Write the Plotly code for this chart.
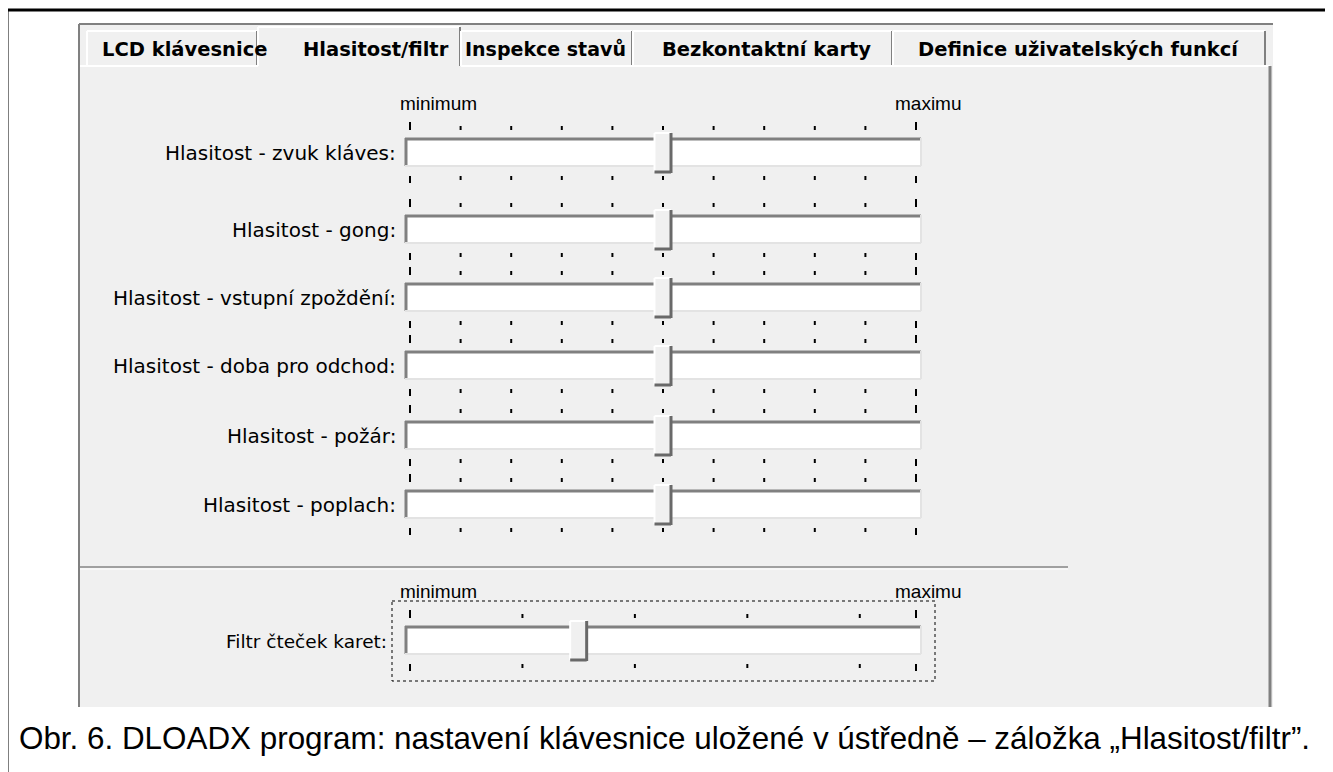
import plotly.graph_objects as go

# ---------------- data ----------------
tab_labels = ["LCD klávesnice", "Hlasitost/filtr", "Inspekce stavů",
              "Bezkontaktní karty", "Definice uživatelských funkcí"]
active_tab = "Hlasitost/filtr"

slider_labels = ["Hlasitost - zvuk kláves:", "Hlasitost - gong:",
                 "Hlasitost - vstupní zpoždění:", "Hlasitost - doba pro odchod:",
                 "Hlasitost - požár:", "Hlasitost - poplach:"]
slider_values = [5, 5, 5, 5, 5, 5]
slider_max = 10
slider_tick_step = 1

filter_label = "Filtr čteček karet:"
filter_value = 3
filter_max = 9
filter_tick_step = 2

range_labels = ["minimum", "maximu"]
caption = "Obr. 6. DLOADX program: nastavení klávesnice uložené v ústředně – záložka „Hlasitost/filtr”."

# ---------------- layout constants ----------------
W, H = 1333, 772
BODY_MARGIN = 8  # default page margin of the html body
PANEL_BG = "#F0F0F0"
DARK = "#808080"
DARKER = "#696969"
LIGHT = "#FFFFFF"
UI_FONT = "DejaVu Sans"

row_centers = [152, 229, 297, 365, 435, 504]
filter_center = 640
TRACK_X0, TRACK_X1 = 405, 921
TICK_X0, TICK_X1 = 410, 916

shapes = []
annotations = []


def line(x0, y0, x1, y1, color, width=1, dash=None):
    d = dict(type="line", x0=x0, y0=y0, x1=x1, y1=y1, xref="x", yref="y",
             layer="below", line=dict(color=color, width=width))
    if dash:
        d["line"]["dash"] = dash
    shapes.append(d)


def rect(x0, y0, x1, y1, fill, color=None, width=0, dash=None):
    d = dict(type="rect", x0=x0, y0=y0, x1=x1, y1=y1, xref="x", yref="y",
             layer="below", fillcolor=fill, line=dict(color=color or fill, width=width))
    if dash:
        d["line"]["dash"] = dash
    shapes.append(d)


def text(x, y, s, size=17, bold=False, xanchor="left", family=UI_FONT, color="black"):
    annotations.append(dict(x=x, y=y, xref="x", yref="y", text=f"<b>{s}</b>" if bold else s,
                            showarrow=False, xanchor=xanchor, yanchor="middle",
                            font=dict(family=family, size=size, color=color)))


# outer frame
line(7, 10, 1332, 10, "black", 3)
line(7, 10, 7, 772, "black", 3)
line(1332, 10, 1332, 772, "black", 3)

# screenshot panel
rect(79, 24, 1273, 707, PANEL_BG)
line(79, 24, 1273, 24, DARK, 2)
line(79, 24, 79, 707, DARK, 2)

# tab row
tab_edges = [87, 258, 461, 633, 893, 1266]
tab_text_cx = [184.5, 376, 545, 766, 1078]
tab_text_size = [19.5, 19.5, 19, 19.5, 19.5]
for i, lab in enumerate(tab_labels):
    x0, x1 = tab_edges[i], tab_edges[i + 1]
    is_active = lab == active_tab
    top = 27 if is_active else 31
    line(x0, top, x1 - 1, top, LIGHT, 2)
    line(x0, top, x0, 66, LIGHT, 2)
    line(x1 - 1, top, x1 - 1, 66, DARK, 2)
    text(tab_text_cx[i], 49, lab, size=tab_text_size[i], bold=True, xanchor="center",
         family="DejaVu Sans")

# panel body borders
act = tab_labels.index(active_tab)
line(80, 66, tab_edges[act], 66, LIGHT, 2)
line(tab_edges[act + 1], 66, 1270, 66, LIGHT, 2)
line(1270, 66, 1270, 707, DARK, 3)

# ticks trace coordinates
tick_x, tick_y = [], []


def add_slider(cy, label, value, vmax, step, label_x, label_size=20):
    # track
    rect(TRACK_X0, cy - 14, TRACK_X1, cy + 14, LIGHT)
    line(TRACK_X0, cy - 13, TRACK_X1, cy - 13, DARK, 3)
    line(TRACK_X0 + 1, cy - 14, TRACK_X0 + 1, cy + 14, DARK, 3)
    line(TRACK_X0, cy + 14, TRACK_X1, cy + 14, "#E3E3E3", 2)
    line(TRACK_X1, cy - 14, TRACK_X1, cy + 14, "#E3E3E3", 2)
    # ticks
    scale = (TICK_X1 - TICK_X0) / vmax
    vals = list(range(0, vmax + 1, step))
    if vals[-1] != vmax:
        vals.append(vmax)
    for v in vals:
        x = TICK_X0 + v * scale
        end = v in (0, vmax)
        tick_x.extend([x, x, None, x, x, None])
        tick_y.extend([cy - (30 if end else 26), cy - 22, None,
                       cy + 24, cy + (31 if end else 28), None])
    # thumb
    tx = TICK_X0 + value * scale
    rect(tx - 8.5, cy - 19, tx + 8.5, cy + 21, PANEL_BG)
    line(tx - 8.5, cy - 19, tx + 8, cy - 19, LIGHT, 2)
    line(tx - 8.5, cy - 19, tx - 8.5, cy + 20, LIGHT, 2)
    line(tx + 8, cy - 19, tx + 8, cy + 21, DARKER, 3)
    line(tx - 8.5, cy + 20, tx + 8, cy + 20, DARKER, 3)
    # label
    text(label_x, cy + 1, label, size=label_size, xanchor="right")


text(398, 103, range_labels[0], size=19, family="Liberation Sans")
text(893, 103, range_labels[1], size=19, family="Liberation Sans")
for cy, lab, v in zip(row_centers, slider_labels, slider_values):
    add_slider(cy, lab, v, slider_max, slider_tick_step, 398)

# separator
line(80, 567, 1068, 567, "#A0A0A0", 2)
line(80, 569, 1068, 569, LIGHT, 1)

# filter slider
text(398, 591, range_labels[0], size=19, family="Liberation Sans")
text(893, 591, range_labels[1], size=19, family="Liberation Sans")
rect(392, 601, 935, 681, "rgba(0,0,0,0)", "black", 1, dash="dot")
add_slider(filter_center, filter_label, filter_value, filter_max, filter_tick_step, 389,
           label_size=18.5)

# caption
text(17, 738, caption, size=31.4, family="Liberation Sans")

fig = go.Figure()
fig.add_trace(go.Scatter(x=tick_x, y=tick_y, mode="lines",
                         line=dict(color="black", width=2), hoverinfo="skip",
                         showlegend=False, cliponaxis=False))
fig.update_layout(
    width=W - BODY_MARGIN, height=H - BODY_MARGIN, margin=dict(l=0, r=0, t=0, b=0),
    paper_bgcolor="white", plot_bgcolor="white",
    xaxis=dict(range=[BODY_MARGIN, W], visible=False, fixedrange=True),
    yaxis=dict(range=[H, BODY_MARGIN], visible=False, fixedrange=True),
    shapes=shapes, annotations=annotations, showlegend=False,
)
fig.write_html("out.html")
